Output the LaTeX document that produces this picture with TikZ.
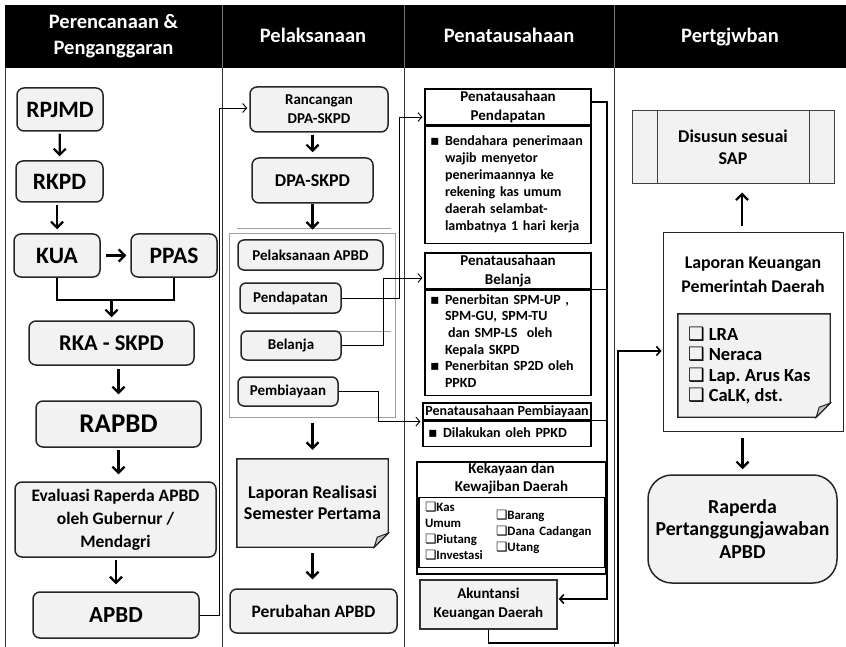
\documentclass[tikz,border=0pt]{standalone}
\usepackage{fontspec}
\setmainfont{Carlito}
\newfontfamily\simbol{DejaVu Sans}
\usepackage{tikz}
\usetikzlibrary{arrows.meta,calc,backgrounds}
\definecolor{AbuKotak}{RGB}{242,242,242}
\definecolor{AbuLipat}{RGB}{195,195,195}
\definecolor{GarisAbu}{RGB}{160,160,160}
\newcommand{\uk}[2]{\fontsize{#1}{#2}\selectfont}
\newcommand{\cek}{{\simbol ❑}}
\newcommand{\butir}{{\simbol ▪}}
\frenchspacing

\begin{document}
\begin{tikzpicture}[x=1pt,y=-1pt,
  kepala/.style={text=white,font=\bfseries\uk{20.5}{26},align=center},
  kotak/.style={draw=black!85,line width=1.5pt,fill=AbuKotak,rounded corners=7pt,align=center,inner sep=1pt},
  kotakjudul/.style={draw=black,line width=1.1pt,fill=white,align=center,inner sep=0pt,font=\bfseries\uk{15}{19}},
  isian/.style={draw=black,line width=1.1pt,fill=white,align=left,inner xsep=5pt,inner ysep=1pt,font=\bfseries\uk{14}{17}},
  panah/.style={line width=2.2pt,-{Straight Barb[length=6pt,width=12pt]},shorten >=5pt,shorten <=2pt},
  hubung/.style={line width=0.9pt,-{Straight Barb[length=4pt,width=9pt]},shorten >=2pt},
  hubungtebal/.style={line width=1.6pt}]
  % lembar dokumen dengan sudut terlipat
  \def\dokumen#1{%
    \draw[line width=1.4pt,draw=black!85,fill=AbuKotak] (#1.north west) -- (#1.north east)
      -- ([yshift=14pt]#1.south east) -- ([xshift=-14pt]#1.south east) -- (#1.south west) -- cycle;
    \draw[line width=1pt,draw=black!85,fill=AbuLipat] ([xshift=-14pt]#1.south east)
      -- ([xshift=-11pt,yshift=10pt]#1.south east) -- ([yshift=14pt]#1.south east) -- cycle;}

  \useasboundingbox (0,0) rectangle (846,647);

  % Kepala kolom
  \fill[black] (5,5) rectangle (846,68);
  \foreach \x in {222,404,614} \draw[black!55,line width=0.8pt] (\x,5) -- (\x,68);
  \foreach \x in {5,222,404,614} \draw[black!80,line width=0.9pt] (\x,68) -- (\x,647);
  \node[kepala] (kolPer) at (113.5,36) {Perencanaan \&\\Penganggaran};
  \node[kepala,anchor=base] (kolPel) at (313,43) {Pelaksanaan};
  \node[kepala,anchor=base] (kolPen) at (509,43) {Penatausahaan};
  \node[kepala,anchor=base] (kolPtj) at (730,43) {Pertgjwban};

  % Perencanaan & Penganggaran
  \node[kotak,minimum width=86pt,minimum height=43pt,font=\bfseries\uk{23.5}{26}] (rpjmd) at (60,109.5) {RPJMD};
  \node[kotak,minimum width=87pt,minimum height=41pt,font=\bfseries\uk{23.5}{26}] (rkpd) at (59.5,181.5) {RKPD};
  \node[kotak,minimum width=86pt,minimum height=43pt,font=\bfseries\uk{23.5}{26}] (kua) at (57,255.5) {KUA};
  \node[kotak,minimum width=86pt,minimum height=43pt,font=\bfseries\uk{23.5}{26}] (ppas) at (174,255.5) {PPAS};
  \node[kotak,minimum width=165pt,minimum height=44pt,font=\bfseries\uk{22.5}{26}] (rka) at (111.5,343) {RKA - SKPD};
  \node[kotak,minimum width=165pt,minimum height=46pt,font=\bfseries\uk{27}{30}] (rapbd) at (118.5,424) {RAPBD};
  \node[kotak,minimum width=201pt,minimum height=75pt,font=\bfseries\uk{17.5}{23}] (eval) at (115.5,519.5) {Evaluasi Raperda APBD\\oleh Gubernur /\\Mendagri};
  \node[kotak,minimum width=166pt,minimum height=46pt,font=\bfseries\uk{23}{26}] (apbd) at (116,615) {APBD};
  \coordinate (gabung) at (111.5,300);

  \draw[panah,shorten >=4pt] (rpjmd) -- (rkpd);
  \draw[panah,shorten >=4pt] (rkpd.south -| kua) -- (kua.north);
  \draw[panah,shorten <=5pt,shorten >=4pt] (kua) -- (ppas);
  \draw[line width=1.1pt] (kua.south) |- (gabung) -| (ppas.south);
  \draw[panah,shorten <=0pt,shorten >=3pt] (gabung) -- (rka.north);
  \draw[panah,shorten <=3pt,shorten >=6pt] (rka.south -| rapbd) -- (rapbd.north);
  \draw[panah,shorten >=7pt] (rapbd.south) -- (rapbd.south |- eval.north);
  \draw[panah,shorten >=7pt] (eval.south -| apbd) -- (apbd.north);

  % Pelaksanaan
  \node[kotak,minimum width=138pt,minimum height=45pt,font=\bfseries\uk{15}{19}] (ranc) at (319,109.5) {Rancangan\\DPA-SKPD};
  \node[kotak,minimum width=121pt,minimum height=45pt,font=\bfseries\uk{18}{22}] (dpa) at (312.5,180.5) {DPA-SKPD};
  \draw[GarisAbu,line width=0.7pt] (237,228) -- (391,228);
  \node[draw=GarisAbu,line width=0.9pt,minimum width=166pt,minimum height=184pt] (panel) at (312,325) {};
  \draw[GarisAbu,line width=0.7pt] (246,331) -- (391,331);
  \node[kotak,rounded corners=6pt,minimum width=145pt,minimum height=30pt,font=\bfseries\uk{15}{18}] (pelAPBD) at (310.5,255) {Pelaksanaan APBD};
  \node[kotak,rounded corners=6pt,minimum width=101pt,minimum height=30pt,font=\bfseries\uk{15}{18}] (pend) at (290.5,298) {Pendapatan};
  \node[kotak,rounded corners=6pt,minimum width=100pt,minimum height=29pt,font=\bfseries\uk{15}{18}] (bel) at (291,345.5) {Belanja};
  \node[kotak,rounded corners=6pt,minimum width=100pt,minimum height=29pt,font=\bfseries\uk{15}{18}] (pemb) at (288,391.5) {Pembiayaan};
  \node[minimum width=151pt,minimum height=88pt,align=center,font=\bfseries\uk{18}{21}] (lapReal) at (312.5,503) {Laporan Realisasi\\Semester Pertama};
  \node[kotak,minimum width=167pt,minimum height=44pt,font=\bfseries\uk{17.5}{21}] (perubahan) at (313.5,611) {Perubahan APBD};

  \draw[panah] (ranc.south -| dpa) -- (dpa.north);
  \draw[panah,shorten >=3pt,shorten <=0pt] (dpa.south) -- (dpa.south |- panel.north);
  \draw[panah,shorten <=6pt,shorten >=9pt] (panel.south -| lapReal) -- (lapReal.north);
  \draw[panah,shorten <=6pt,shorten >=9pt] (lapReal.south) -- (lapReal.south |- perubahan.north);
  \draw[hubung] (apbd.east) -- ++(20,0) |- ([yshift=1.5pt]ranc.west);

  % Penatausahaan
  \node[kotakjudul,minimum width=166pt,minimum height=36pt] (jdlPend) at (508,107) {Penatausahaan\\Pendapatan};
  \node[isian,text width=156pt,minimum height=117pt,anchor=north] (isiPend) at (jdlPend.south)
    {\noindent\begin{tabular}{@{}p{15pt}@{}l@{}}
      \butir & Bendahara penerimaan\\ & wajib menyetor\\ & penerimaannya ke\\
      & rekening kas umum\\ & daerah selambat-\\ & lambatnya 1 hari kerja
    \end{tabular}};
  \node[kotakjudul,minimum width=166pt,minimum height=36pt] (jdlBel) at (508,271) {Penatausahaan\\Belanja};
  \node[isian,text width=156pt,minimum height=105pt,anchor=north,font=\bfseries\uk{14}{16.7}] (isiBel) at (jdlBel.south)
    {\noindent\begin{tabular}{@{}p{15pt}@{}l@{}}
      \butir & Penerbitan SPM-UP ,\\ & SPM-GU, SPM-TU\\ & \hspace{3pt}dan SMP-LS\ \ oleh\\
      & Kepala SKPD\\ \butir & Penerbitan SP2D oleh\\ & PPKD
    \end{tabular}};
  \node[kotakjudul,minimum width=168pt,minimum height=17pt,font=\bfseries\uk{14}{17}] (jdlPemb) at (507,411.5) {Penatausahaan Pembiayaan};
  \node[isian,text width=158pt,minimum height=25pt,anchor=north] (isiPemb) at (jdlPemb.south)
    {\noindent\begin{tabular}{@{}p{15pt}@{}l@{}}\butir & Dilakukan oleh PPKD\end{tabular}};
  \node[draw=black,line width=1.1pt,fill=white,minimum width=189pt,minimum height=112pt] (kek) at (511.5,518) {};
  \node[align=center,font=\bfseries\uk{15}{18}] (jdlKek) at (511.5,479) {Kekayaan dan\\Kewajiban Daerah};
  \node[draw=black,line width=1.1pt,text width=174pt,inner xsep=6pt,minimum height=69pt,align=left,font=\bfseries\uk{12.8}{16}] (isiKek) at (512,532.5)
    {\noindent\makebox[71pt][l]{\begin{tabular}[c]{@{}l@{}}\cek Kas\\Umum\\\cek Piutang\\\cek Investasi\end{tabular}}%
     \begin{tabular}[c]{@{}l@{}}\cek Barang\\\cek Dana Cadangan\\\cek Utang\end{tabular}};
  \node[draw=black!80,line width=1.5pt,fill=AbuKotak,minimum width=137pt,minimum height=49pt,align=center,font=\bfseries\uk{15}{19}] (akun) at (488.5,604.5) {Akuntansi\\Keuangan Daerah};

  \draw[hubung] (pend.east) -- ++(58,0) |- ([yshift=-10pt]jdlPend.west);
  \draw[hubung] (bel.east) -- ++(42,0) |- ([yshift=-7pt]jdlBel.west);
  \draw[hubung] (pemb.east) -- ++(40,0) |- ([yshift=-1pt]jdlPemb.south west);
  \coordinate (sudut) at (607,599);
  \draw[hubungtebal,-{Straight Barb[length=4pt,width=9pt]},shorten >=1pt] ([yshift=5pt]jdlPend.east) -| (sudut) -- (sudut -| akun.east);
  \draw[hubungtebal] (jdlBel.south east) -- (jdlBel.south east -| sudut);
  \draw[hubungtebal] (jdlPemb.south east) -- (jdlPemb.south east -| sudut);
  \draw[hubungtebal] (isiKek.north east) -- (isiKek.north east -| sudut);

  % Pertanggungjawaban
  \node[draw=black!75,line width=1pt,fill=AbuKotak,minimum width=202pt,minimum height=73pt,align=center,font=\bfseries\uk{18}{22}] (sap) at (733,147.5) {Disusun sesuai\\SAP};
  \draw[black!75,line width=1pt] ([xshift=26pt]sap.north west) -- ([xshift=26pt]sap.south west);
  \draw[black!75,line width=1pt] ([xshift=-25pt]sap.north east) -- ([xshift=-25pt]sap.south east);
  \node[draw=black!85,line width=1pt,minimum width=180pt,minimum height=198pt] (LK) at (753,332) {};
  \node[align=center,font=\bfseries\uk{17.8}{24}] (jdlLK) at (753,275) {Laporan Keuangan\\Pemerintah Daerah};
  \node[text width=132pt,inner xsep=10pt,minimum height=103pt,align=left,font=\bfseries\uk{18.5}{20.5}] (isiLK) at (754,365.5)
    {\noindent\spaceskip=0pt\xspaceskip=0pt\cek\ LRA\\\cek\ Neraca\\\cek\ Lap. Arus Kas\\\cek\ CaLK, dst.};
  \node[kotak,rounded corners=24pt,minimum width=189pt,minimum height=108pt,font=\bfseries\uk{19.8}{22.5}] (raperda) at (742.5,529) {Raperda\\Pertanggungjawaban\\APBD};

  \draw[panah,shorten <=6pt,shorten >=8pt] ([xshift=-11pt]LK.north) -- ([xshift=-11pt]LK.north |- sap.south);
  \draw[panah,shorten <=6pt] (LK.south -| raperda) -- (raperda.north);
  \coordinate (belok) at (618,643);
  \draw[hubungtebal,-{Straight Barb[length=4pt,width=9pt]},shorten >=1pt] (akun.south) |- (belok) |- ([yshift=-19pt]LK.west);

  \begin{pgfonlayer}{background}
    \dokumen{lapReal}
    \dokumen{isiLK}
  \end{pgfonlayer}
\end{tikzpicture}
\end{document}
